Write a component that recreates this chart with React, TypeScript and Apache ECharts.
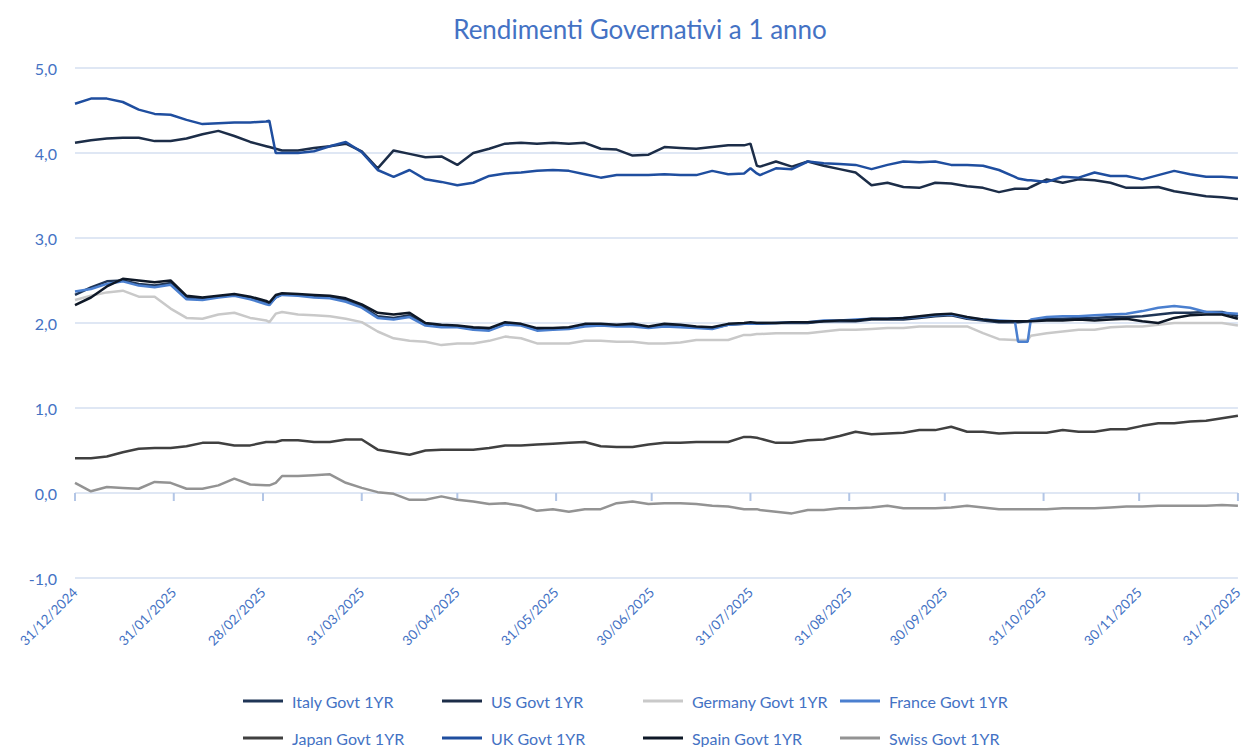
import React, { useEffect, useRef } from "react";
import * as echarts from "echarts";

const days = [0,5,10,15,20,25,30,35,40,45,50,55,60,61,63,65,70,75,80,85,90,95,100,105,110,115,120,125,130,135,140,145,150,155,160,165,170,175,180,185,190,195,200,205,210,212,214,215,220,225,230,235,240,245,250,255,260,265,270,275,280,285,290,295,296,299,300,305,310,315,320,325,330,335,340,345,350,355,360,365];

const italy = [2.33,2.42,2.49,2.5,2.46,2.44,2.47,2.3,2.29,2.31,2.33,2.3,2.24,2.22,2.3,2.34,2.33,2.32,2.31,2.27,2.2,2.08,2.06,2.09,1.98,1.97,1.96,1.93,1.93,1.99,1.98,1.92,1.93,1.94,1.98,1.98,1.97,1.98,1.95,1.98,1.97,1.95,1.94,1.98,1.99,2.0,2.0,2.0,2.0,2.0,2.0,2.02,2.02,2.02,2.04,2.04,2.04,2.06,2.08,2.09,2.05,2.03,2.01,2.01,2.01,2.02,2.03,2.05,2.05,2.06,2.06,2.07,2.07,2.08,2.1,2.12,2.12,2.13,2.13,2.08];

const us = [4.12,4.15,4.17,4.18,4.18,4.14,4.14,4.17,4.22,4.26,4.2,4.13,4.08,4.07,4.05,4.03,4.03,4.06,4.08,4.11,4.02,3.82,4.03,3.99,3.95,3.96,3.86,4.0,4.05,4.11,4.12,4.11,4.12,4.11,4.12,4.05,4.04,3.97,3.98,4.07,4.06,4.05,4.07,4.09,4.09,4.11,3.85,3.84,3.9,3.84,3.9,3.85,3.81,3.77,3.62,3.65,3.6,3.59,3.65,3.64,3.61,3.59,3.54,3.58,3.58,3.58,3.6,3.69,3.65,3.69,3.68,3.65,3.59,3.59,3.6,3.55,3.52,3.49,3.48,3.46];

const germany = [2.27,2.32,2.36,2.38,2.31,2.31,2.17,2.06,2.05,2.1,2.12,2.06,2.03,2.01,2.11,2.13,2.1,2.09,2.08,2.05,2.01,1.9,1.82,1.79,1.78,1.74,1.76,1.76,1.79,1.84,1.82,1.76,1.76,1.76,1.79,1.79,1.78,1.78,1.76,1.76,1.77,1.8,1.8,1.8,1.86,1.86,1.87,1.87,1.88,1.88,1.88,1.9,1.92,1.92,1.93,1.94,1.94,1.96,1.96,1.96,1.96,1.88,1.81,1.8,1.8,1.8,1.85,1.88,1.9,1.92,1.92,1.95,1.96,1.96,1.98,2.0,2.0,2.0,2.0,1.97];

const france = [2.37,2.4,2.46,2.49,2.44,2.42,2.45,2.28,2.27,2.3,2.32,2.28,2.22,2.21,2.3,2.33,2.32,2.3,2.29,2.25,2.18,2.06,2.04,2.07,1.97,1.95,1.95,1.92,1.91,1.98,1.97,1.91,1.92,1.93,1.96,1.97,1.96,1.96,1.94,1.96,1.95,1.94,1.93,1.98,1.99,1.99,1.99,1.99,2.0,2.01,2.01,2.03,2.03,2.04,2.05,2.05,2.06,2.07,2.09,2.1,2.06,2.04,2.03,2.02,1.78,1.78,2.04,2.07,2.08,2.08,2.09,2.1,2.11,2.14,2.18,2.2,2.18,2.13,2.12,2.11];

const japan = [0.41,0.41,0.43,0.48,0.52,0.53,0.53,0.55,0.59,0.59,0.56,0.56,0.6,0.6,0.6,0.62,0.62,0.6,0.6,0.63,0.63,0.51,0.48,0.45,0.5,0.51,0.51,0.51,0.53,0.56,0.56,0.57,0.58,0.59,0.6,0.55,0.54,0.54,0.57,0.59,0.59,0.6,0.6,0.6,0.66,0.66,0.65,0.64,0.59,0.59,0.62,0.63,0.67,0.72,0.69,0.7,0.71,0.74,0.74,0.78,0.72,0.72,0.7,0.71,0.71,0.71,0.71,0.71,0.74,0.72,0.72,0.75,0.75,0.79,0.82,0.82,0.84,0.85,0.88,0.91];

const uk = [4.58,4.64,4.64,4.6,4.51,4.46,4.45,4.39,4.34,4.35,4.36,4.36,4.37,4.38,4.0,4.0,4.0,4.02,4.08,4.13,4.01,3.8,3.72,3.8,3.69,3.66,3.62,3.65,3.73,3.76,3.77,3.79,3.8,3.79,3.75,3.71,3.74,3.74,3.74,3.75,3.74,3.74,3.79,3.75,3.76,3.82,3.76,3.74,3.82,3.81,3.9,3.88,3.87,3.86,3.81,3.86,3.9,3.89,3.9,3.86,3.86,3.85,3.8,3.72,3.7,3.68,3.68,3.66,3.72,3.71,3.77,3.73,3.73,3.69,3.74,3.79,3.75,3.72,3.72,3.71];

const spain = [2.21,2.3,2.43,2.52,2.5,2.48,2.5,2.32,2.3,2.32,2.34,2.31,2.26,2.24,2.33,2.35,2.34,2.33,2.32,2.29,2.22,2.12,2.1,2.12,2.0,1.98,1.97,1.95,1.94,2.01,1.99,1.94,1.94,1.95,1.99,1.99,1.98,1.99,1.96,1.99,1.98,1.96,1.95,1.99,2.0,2.01,2.0,2.0,2.0,2.01,2.01,2.02,2.03,2.03,2.05,2.05,2.06,2.08,2.1,2.11,2.07,2.04,2.02,2.02,2.02,2.02,2.02,2.03,2.03,2.04,2.03,2.04,2.05,2.02,2.0,2.06,2.09,2.1,2.1,2.05];

const swiss = [0.12,0.02,0.07,0.06,0.05,0.13,0.12,0.05,0.05,0.09,0.17,0.1,0.09,0.09,0.12,0.2,0.2,0.21,0.22,0.12,0.06,0.01,-0.01,-0.08,-0.08,-0.04,-0.08,-0.1,-0.13,-0.12,-0.15,-0.21,-0.19,-0.22,-0.19,-0.19,-0.12,-0.1,-0.13,-0.12,-0.12,-0.13,-0.15,-0.16,-0.19,-0.19,-0.19,-0.2,-0.22,-0.24,-0.2,-0.2,-0.18,-0.18,-0.17,-0.15,-0.18,-0.18,-0.18,-0.17,-0.15,-0.17,-0.19,-0.19,-0.19,-0.19,-0.19,-0.19,-0.18,-0.18,-0.18,-0.17,-0.16,-0.16,-0.15,-0.15,-0.15,-0.15,-0.14,-0.15];

const tickDays = [0, 31, 59, 90, 120, 151, 181, 212, 243, 273, 304, 334, 365];
const tickLabels = ["31/12/2024", "31/01/2025", "28/02/2025", "31/03/2025", "30/04/2025", "31/05/2025", "30/06/2025", "31/07/2025", "31/08/2025", "30/09/2025", "31/10/2025", "30/11/2025", "31/12/2025"];

const seriesNames = ["Italy Govt 1YR", "US Govt 1YR", "Germany Govt 1YR", "France Govt 1YR", "Japan Govt 1YR", "UK Govt 1YR", "Spain Govt 1YR", "Swiss Govt 1YR"];
const seriesValues = [italy, us, germany, france, japan, uk, spain, swiss];
const seriesColors = ["#1f3556", "#1c2d48", "#c9c9c9", "#4a7fcf", "#404040", "#1f4e9f", "#0e1827", "#939393"];

const legendLeft = [243, 442, 643, 840, 243, 442, 643, 840];
const legendTop = [693, 693, 693, 693, 730, 730, 730, 730];

const BLUE = "#4472c4";
const GRID = "#d5dff0";
const FONT = "Lato, 'Liberation Sans', sans-serif";

export default function App() {
  const ref = useRef<HTMLDivElement>(null);
  useEffect(() => {
    if (!ref.current) return;
    const chart = echarts.init(ref.current, undefined, { renderer: "svg" });
    const lineSeries = seriesNames.map((name, k) => ({
      name,
      type: "line",
      showSymbol: false,
      symbol: "none",
      color: seriesColors[k],
      lineStyle: { width: 2.5, color: seriesColors[k] },
      z: 3,
      data: days.map((d, i) => [d, seriesValues[k][i]]),
    }));
    chart.setOption({
      animation: false,
      title: {
        text: "Rendimenti Governativi a 1 anno",
        left: 635,
        textAlign: "center",
        top: 11,
        textStyle: { color: BLUE, fontSize: 26, fontWeight: "normal", fontFamily: FONT },
      },
      legend: seriesNames.map((name, k) => ({
        left: legendLeft[k],
        top: legendTop[k],
        padding: 0,
        itemWidth: 40,
        itemHeight: 3,
        icon: "rect",
        data: [name],
        textStyle: { color: BLUE, fontSize: 16, fontFamily: FONT, padding: [0, 0, 0, 4] },
      })),
      grid: { left: 75, right: 7, top: 68, bottom: 169, containLabel: false },
      xAxis: {
        type: "value",
        min: 0,
        max: 365,
        axisLine: { show: false, onZero: false },
        axisTick: { show: false },
        splitLine: { show: false },
        axisLabel: {
          customValues: tickDays,
          rotate: 45,
          margin: 12,
          color: BLUE,
          fontSize: 13.5,
          fontFamily: FONT,
          formatter: (v: number) => {
            const i = tickDays.indexOf(v);
            return i >= 0 ? tickLabels[i] : "";
          },
        },
      },
      yAxis: {
        type: "value",
        min: -1,
        max: 5,
        interval: 1,
        axisLine: { show: false },
        axisTick: { show: false },
        splitLine: { show: true, lineStyle: { color: GRID, width: 1.5 } },
        axisLabel: {
          color: BLUE,
          fontSize: 16,
          fontFamily: FONT,
          margin: 18,
          formatter: (v: number) => v.toFixed(1).replace(".", ","),
        },
      },
      series: [
        ...lineSeries,
        {
          name: "ticks",
          type: "scatter",
          silent: true,
          symbol: "rect",
          symbolSize: [2, 8],
          symbolOffset: [0, 4],
          itemStyle: { color: "#b3c6e6", opacity: 1 },
          z: 2,
          data: tickDays.map((d) => [d, 0]),
        },
      ],
    });
    return () => chart.dispose();
  }, []);
  return <div ref={ref} style={{ position: "fixed", left: 0, top: 0, width: 1245, height: 747, background: "#fff" }} />;
}
